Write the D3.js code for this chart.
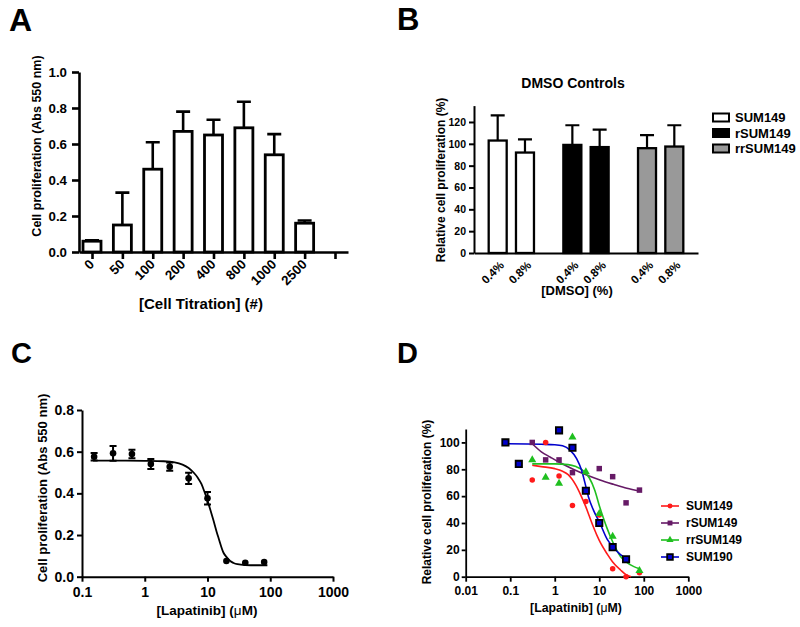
<!DOCTYPE html>
<html><head><meta charset="utf-8">
<script src="https://cdn.jsdelivr.net/npm/d3@7"></script>
<style>
body{margin:0;background:#fff}
svg{display:block}
text{font-family:"Liberation Sans",Arial,Helvetica,sans-serif;font-weight:bold;fill:#000}
</style>
</head><body>
<svg id="c" width="800" height="627"></svg>
<script>
// ---------------- DATA ----------------
// Panel A
const aCats = ["0","50","100","200","400","800","1000","2500",""];
const aMeans = [0.06,0.15,0.46,0.67,0.65,0.69,0.54,0.16];
const aUpper = [0.065,0.33,0.61,0.78,0.735,0.835,0.655,0.175];
const aYTicks = [0,0.2,0.4,0.6,0.8,1.0];

// Panel B
const bGroups = ["SUM149","rSUM149","rrSUM149"];
const bDmso = ["0.4%","0.8%"];
const bMeans = [[103,92],[99,97],[96,97.5]];
const bUpper = [[126,104],[117,113],[108,117]];
const bYTicks = [0,20,40,60,80,100,120];

// Panel C
const cDose = [0.156,0.3125,0.625,1.25,2.5,5,10,20,40,80];
const cMean = [0.576,0.592,0.589,0.541,0.528,0.472,0.376,0.075,0.067,0.070];
const cErr  = [0.018,0.035,0.020,0.024,0.020,0.027,0.030,0,0,0];
const cFitX = [0.15,0.5,1,2,3,4,5,6,7,8,9,10,11,12.4,14,15,18,20,23,26,30,40,60,90];
const cFitY = [0.557,0.557,0.556,0.554,0.549,0.538,0.522,0.50,0.475,0.445,0.405,0.365,0.325,0.272,0.215,0.186,0.115,0.095,0.075,0.066,0.060,0.056,0.055,0.055];
const cXTicks = [0.1,1,10,100,1000];
const cYTicks = [0,0.2,0.4,0.6,0.8];

// Panel D
const dSeries = ["SUM149","rSUM149","rrSUM149","SUM190"];
const dSUM149X = [0.3125,0.625,1.25,2.5,5,10,20,40,80];
const dSUM149Y = [72,100,75,53,56,46,6,0,3];
const drSUM149X = [0.3125,0.625,1.25,2.5,10,20,40,80];
const drSUM149Y = [100,87,87,77.5,80.5,74.5,55,64.5];
const drrSUM149X = [0.3125,0.625,1.25,2.5,5,10,20,80];
const drrSUM149Y = [87,74,69.5,104,78,47,30,4.5];
const dSUM190X = [0.078,0.156,1.25,2.5,5,10,20,40];
const dSUM190Y = [100,84,109,96,64,40,22,13];
// fitted curves
const fSUM149X = [0.3125,0.5,1,1.5,2,3,4,5,6,7.4,10,15,20,30,40,52];
const fSUM149Y = [83,82,80.5,78.5,76,68,59.5,52,45,37,27,17,11,5,1.5,0];
const frSUM149X = [0.3125,0.5,0.8,1.3,2.6,5.2,10.4,20.8,41.6,80];
const frSUM149Y = [99,93,89,85,80,75.7,72,68.8,65.8,63.8];
const frrSUM149X = [0.3125,1,2,3,4,5,6,8,10,12,15,20,30,40,60,80];
const frrSUM149Y = [84,84,83.5,82,80,77,73.5,64,53,45,36,26,15,11,7.5,6];
const fSUM190X = [0.078,0.5,1,1.5,2.2,3.1,4,4.8,5.7,7.4,10.4,15,20.8,30,41.6,47];
const fSUM190Y = [99,98.6,98.3,97.5,94.3,88,79.4,69.5,59.6,49.6,39.7,28,22,16.5,13.7,13];
const dXTicks = [0.01,0.1,1,10,100,1000];
const dYTicks = [0,20,40,60,80,100];

// ---------------- STYLE ----------------
const FONT = '"Liberation Sans", Arial, Helvetica, sans-serif';
const bFill = ["#ffffff","#000000","#999999"];
const dColor = ["#ff1a1a","#661a66","#1fbf1f","#0000cc"];

const svg = d3.select("#c");

function styleAxis(g, sw, fs){
  g.attr("font-family",FONT).attr("font-size",fs).attr("font-weight","bold");
  g.select(".domain").attr("stroke","#000").attr("stroke-width",sw);
  g.selectAll(".tick line").attr("stroke","#000").attr("stroke-width",sw);
  g.selectAll(".tick text").attr("fill","#000");
}
function letter(t,x,y,fs){
  svg.append("text").attr("x",x).attr("y",y).attr("font-size",fs).text(t);
}

// ================= PANEL A =================
(function(){
  const g = svg.append("g");
  const x = d3.scalePoint().domain(aCats).range([79,348]).padding(0.428);
  const y = d3.scaleLinear().domain([0,1]).range([252,72]);
  const data = aMeans.map((m,i)=>({c:aCats[i],m,u:aUpper[i]}));
  g.selectAll(".eb").data(data).enter().append("path")
    .attr("d",d=>`M${x(d.c)},${y(d.m)}V${y(d.u)}M${x(d.c)-7},${y(d.u)}H${x(d.c)+7}`)
    .attr("stroke","#000").attr("stroke-width",2.6).attr("fill","none");
  g.selectAll(".bar").data(data).enter().append("rect")
    .attr("x",d=>x(d.c)-9).attr("width",18)
    .attr("y",d=>y(d.m)).attr("height",d=>y(0)-y(d.m))
    .attr("fill","#fff").attr("stroke","#000").attr("stroke-width",2.8);
  const ya = g.append("g").attr("transform","translate(79,0)")
    .call(d3.axisLeft(y).tickValues(aYTicks).tickFormat(d3.format(".1f")).tickSize(7).tickPadding(5).tickSizeOuter(0));
  styleAxis(ya,2.6,13.3);
  const xa = g.append("g").attr("transform","translate(0,252)")
    .call(d3.axisBottom(x).tickSize(7).tickSizeOuter(0).tickFormat(""));
  styleAxis(xa,2.6,13.3);
  g.selectAll(".xl").data(aCats).enter().append("text")
    .attr("transform",d=>`translate(${x(d)+3},265) rotate(-45)`)
    .attr("text-anchor","end").attr("font-size",13.3).text(d=>d);
  g.append("text").attr("x",201).attr("y",309).attr("text-anchor","middle").attr("font-size",15)
    .text("[Cell Titration] (#)");
  g.append("text").attr("transform","translate(41,146) rotate(-90)").attr("text-anchor","middle")
    .attr("font-size",12.5).text("Cell proliferation (Abs 550 nm)");
})();
letter("A",9,31,32);

// ================= PANEL B =================
(function(){
  const g = svg.append("g");
  const x0 = d3.scaleBand().domain(bGroups).range([474,698]);
  const x1 = d3.scalePoint().domain(bDmso).range([0,x0.bandwidth()]).padding(0.868);
  const y = d3.scaleLinear().domain([0,135]).range([253,105.6]);
  const data = [];
  bGroups.forEach((gr,i)=>bDmso.forEach((d,j)=>data.push({gi:i,gr,d,m:bMeans[i][j],u:bUpper[i][j]})));
  const cx = d=>x0(d.gr)+x1(d.d);
  g.selectAll(".eb").data(data).enter().append("path")
    .attr("d",d=>`M${cx(d)},${y(d.m)}V${y(d.u)}M${cx(d)-7},${y(d.u)}H${cx(d)+7}`)
    .attr("stroke","#000").attr("stroke-width",2.2).attr("fill","none");
  g.selectAll(".bar").data(data).enter().append("rect")
    .attr("x",d=>cx(d)-9).attr("width",18)
    .attr("y",d=>y(d.m)).attr("height",d=>y(0)-y(d.m))
    .attr("fill",d=>bFill[d.gi]).attr("stroke","#000").attr("stroke-width",2.3);
  const ya = g.append("g").attr("transform","translate(474,0)")
    .call(d3.axisLeft(y).tickValues(bYTicks).tickSize(5).tickPadding(3).tickSizeOuter(0));
  styleAxis(ya,2,10.5);
  const xa = g.append("g").attr("transform","translate(0,253)")
    .call(d3.axisBottom(x0).tickValues([]).tickSizeOuter(0));
  styleAxis(xa,2,10.5);
  g.selectAll(".xl").data(data).enter().append("text")
    .attr("transform",d=>`translate(${cx(d)+7},266) rotate(-45)`)
    .attr("text-anchor","end").attr("font-size",11.5).text(d=>d.d);
  g.append("text").attr("x",577).attr("y",295).attr("text-anchor","middle").attr("font-size",13)
    .text("[DMSO] (%)");
  g.append("text").attr("x",573).attr("y",88).attr("text-anchor","middle").attr("font-size",14)
    .text("DMSO Controls");
  g.append("text").attr("transform","translate(445,180) rotate(-90)").attr("text-anchor","middle")
    .attr("font-size",12).text("Relative cell proliferation (%)");
  const lg = g.selectAll(".lg").data(bGroups).enter().append("g")
    .attr("transform",(d,i)=>`translate(712,${117.5+i*15.5})`);
  lg.append("rect").attr("x",1).attr("y",-4).attr("width",16).attr("height",8)
    .attr("fill",(d,i)=>bFill[i]).attr("stroke","#000").attr("stroke-width",2);
  lg.append("text").attr("x",23).attr("y",4.6).attr("font-size",13).text(d=>d);
})();
letter("B",397,30,31);

// ================= PANEL C =================
(function(){
  const g = svg.append("g");
  const x = d3.scaleLog().domain([0.1,1000]).range([82,333]);
  const y = d3.scaleLinear().domain([0,0.8]).range([576.7,410]);
  const ya = g.append("g").attr("transform","translate(82,0)")
    .call(d3.axisLeft(y).tickValues(cYTicks).tickFormat(d3.format(".1f")).tickSize(5).tickPadding(3).tickSizeOuter(0));
  styleAxis(ya,2,14);
  const xa = g.append("g").attr("transform","translate(0,576.7)")
    .call(d3.axisBottom(x).tickValues(cXTicks).tickFormat(d3.format("")).tickSize(5).tickPadding(5).tickSizeOuter(0));
  styleAxis(xa,2,14);
  const fit = cFitX.map((v,i)=>[v,cFitY[i]]);
  g.append("path").datum(fit)
    .attr("d",d3.line().x(d=>x(d[0])).y(d=>y(d[1])).curve(d3.curveMonotoneX))
    .attr("fill","none").attr("stroke","#000").attr("stroke-width",1.8);
  const pts = cDose.map((v,i)=>({x:v,m:cMean[i],e:cErr[i]}));
  g.selectAll(".eb").data(pts.filter(d=>d.e>0)).enter().append("path")
    .attr("d",d=>`M${x(d.x)},${y(d.m-d.e)}V${y(d.m+d.e)}M${x(d.x)-3.5},${y(d.m-d.e)}H${x(d.x)+3.5}M${x(d.x)-3.5},${y(d.m+d.e)}H${x(d.x)+3.5}`)
    .attr("stroke","#000").attr("stroke-width",2).attr("fill","none");
  g.selectAll(".pt").data(pts).enter().append("circle")
    .attr("cx",d=>x(d.x)).attr("cy",d=>y(d.m)).attr("r",3.3).attr("fill","#000");
  const t = g.append("text").attr("x",207).attr("y",615).attr("text-anchor","middle").attr("font-size",13.5);
  t.append("tspan").text("[Lapatinib] (");
  t.append("tspan").attr("font-weight","normal").text("\u03bc");
  t.append("tspan").text("M)");
  g.append("text").attr("transform","translate(47,488) rotate(-90)").attr("text-anchor","middle")
    .attr("font-size",13).text("Cell proliferation (Abs 550 nm)");
})();
letter("C",11,363,29);

// ================= PANEL D =================
(function(){
  const g = svg.append("g");
  const x = d3.scaleLog().domain([0.01,1000]).range([465.7,688.3]);
  const y = d3.scaleLinear().domain([0,110]).range([576.7,429]);
  const ya = g.append("g").attr("transform","translate(465.7,0)")
    .call(d3.axisLeft(y).tickValues(dYTicks).tickSize(4).tickPadding(2).tickSizeOuter(0));
  styleAxis(ya,1.8,12);
  const xa = g.append("g").attr("transform","translate(0,576.7)")
    .call(d3.axisBottom(x).tickValues(dXTicks).tickFormat(d3.format("")).tickSize(5).tickPadding(5).tickSizeOuter(0));
  styleAxis(xa,1.8,12);
  const fits = [[fSUM149X,fSUM149Y],[frSUM149X,frSUM149Y],[frrSUM149X,frrSUM149Y],[fSUM190X,fSUM190Y]];
  const pts = [[dSUM149X,dSUM149Y],[drSUM149X,drSUM149Y],[drrSUM149X,drrSUM149Y],[dSUM190X,dSUM190Y]];
  const line = d3.line().x(d=>x(d[0])).y(d=>y(d[1])).curve(d3.curveMonotoneX);
  fits.forEach((f,i)=>{
    g.append("path").datum(f[0].map((v,k)=>[v,f[1][k]])).attr("d",line)
      .attr("fill","none").attr("stroke",dColor[i]).attr("stroke-width",1.6);
  });
  const sym = [d3.symbolCircle,d3.symbolSquare,d3.symbolTriangle,d3.symbolSquare];
  const sz = [24,30,28,40];
  function marker(sel,i,scale){
    sel.attr("d",d3.symbol().type(sym[i]).size(sz[i]*scale))
      .attr("fill",dColor[i])
      .attr("stroke",i===3?"#000":"none").attr("stroke-width",i===3?1.8:0);
  }
  pts.forEach((p,i)=>{
    const dd = p[0].map((v,k)=>[v,p[1][k]]);
    g.selectAll(".p"+i).data(dd).enter().append("path")
      .attr("transform",d=>`translate(${x(d[0])},${y(d[1])})`)
      .call(s=>marker(s,i,1));
  });
  const lg = g.selectAll(".lg").data(dSeries).enter().append("g")
    .attr("transform",(d,i)=>`translate(661,${506+i*17})`);
  lg.append("line").attr("x1",0).attr("x2",18).attr("stroke",(d,i)=>dColor[i]).attr("stroke-width",1.6);
  lg.each(function(d,i){ d3.select(this).append("path").attr("transform","translate(9,0)").call(s=>marker(s,i,0.8)); });
  lg.append("text").attr("x",25).attr("y",4.3).attr("font-size",12).text(d=>d);
  const t = g.append("text").attr("x",576).attr("y",612).attr("text-anchor","middle").attr("font-size",12.3);
  t.append("tspan").text("[Lapatinib] (");
  t.append("tspan").attr("font-weight","normal").text("\u03bc");
  t.append("tspan").text("M)");
  g.append("text").attr("transform","translate(431,502) rotate(-90)").attr("text-anchor","middle")
    .attr("font-size",12).text("Relative cell proliferation (%)");
})();
letter("D",397,363,29);
</script>
</body></html>
